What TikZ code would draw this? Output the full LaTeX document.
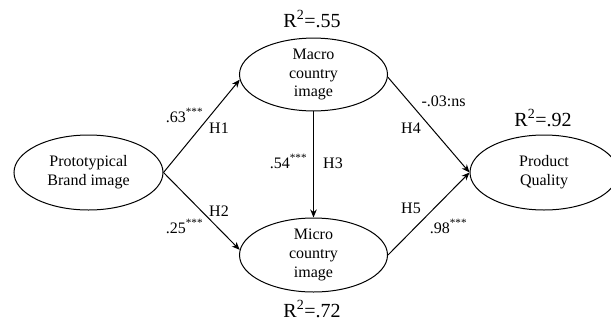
\documentclass[tikz,border=0pt]{standalone}
\usepackage{fontspec}
\setmainfont{Liberation Serif}
\usetikzlibrary{shapes.geometric,arrows.meta}
\begin{document}
\begin{tikzpicture}[x=1pt,y=-1pt,
  ell/.style={ellipse,draw,line width=1pt,inner sep=0pt,minimum width=148pt,minimum height=75pt,align=center,font=\fontsize{16}{18.8}\selectfont},
  conn/.style={line width=1pt,-{Stealth[length=8pt,width=6.5pt]}},
  lbl/.style={anchor=base,inner sep=0pt,font=\fontsize{16}{19}\selectfont},
  rsq/.style={anchor=base,inner sep=0pt,font=\fontsize{20}{24}\selectfont}]
\useasboundingbox (0,0) rectangle (611,322);
\clip (0,0) rectangle (611,322);
\fill[white] (0,0) rectangle (611,322);
\node[ell,minimum width=149pt] (pb) at (88.5,172.5) {Prototypical\\Brand image};
\node[ell,minimum height=71pt] (mac) at (313.5,74.5) {Macro\\country\\image};
\node[ell,minimum height=74pt] (mic) at (313.5,255) {Micro\\country\\image};
\node[ell] (pq) at (544,172.5) {Product\\Quality};
\draw[conn] (pb.east) -- (mac.184);
\draw[conn] (pb.east) -- (mic.176);
\draw[conn] (mac.south) -- (mic.north);
\draw[conn] (mac.-2) -- (pq.west);
\draw[conn] (mic.east) -- (pq.west);
\node[rsq] (r1) at (312,27) {R\textsuperscript{2}=.55};
\node[rsq] (r2) at (312,317) {R\textsuperscript{2}=.72};
\node[rsq] (r3) at (543,126) {R\textsuperscript{2}=.92};
\node[lbl] (l1) at (184.5,122) {.63\textsuperscript{***}};
\node[lbl] (h1) at (219,133) {H1};
\node[lbl] (l3) at (288.5,168) {.54\textsuperscript{***}};
\node[lbl] (h3) at (333,168) {H3};
\node[lbl] (h2) at (219,216) {H2};
\node[lbl] (l2) at (184.5,233) {.25\textsuperscript{***}};
\node[lbl] (h4) at (411,133) {H4};
\node[lbl] (l4) at (443.5,106) {-.03:ns};
\node[lbl] (h5) at (411,213) {H5};
\node[lbl] (l5) at (448.5,233) {.98\textsuperscript{***}};
\end{tikzpicture}
\end{document}
